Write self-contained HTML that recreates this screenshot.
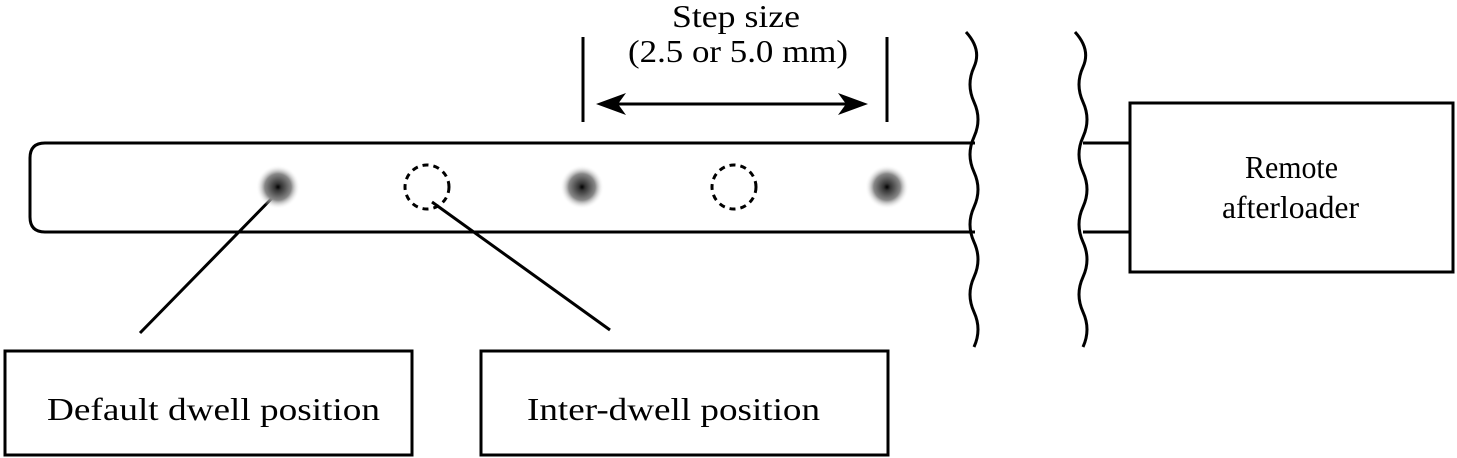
<!DOCTYPE html>
<html><head><style>body{margin:0;background:#fff}svg{display:block}</style></head><body>
<svg width="1457" height="458" viewBox="0 0 1457 458" xmlns="http://www.w3.org/2000/svg" font-family="'Liberation Serif',serif">
<defs><radialGradient id="g"><stop offset="0" stop-color="#000"/><stop offset="0.15" stop-color="#333"/><stop offset="0.6" stop-color="#888"/><stop offset="1" stop-color="#fff" stop-opacity="0"/></radialGradient></defs>
<g stroke="#000" stroke-width="3" fill="none">
<path d="M975 143 H45 Q30 143 30 158 V217 Q30 232 45 232 H975"/>
<path d="M1083 143 H1130 M1083 232 H1130"/>
<rect x="1130" y="103" width="323" height="169"/>
<rect x="5" y="351" width="407" height="104"/>
<rect x="481" y="351" width="407" height="104"/>
<path d="M278 192 L140 333 M432 202 L610 330"/>
<path d="M583 37 V122 M887 37 V122"/>
<path d="M615 104 H852"/>
<path d="M966 32 q16 17.5 8 35 t0 35 t0 35 t0 35 t0 35 t0 35 t0 35 t0 35 t0 35"/>
<path d="M1075 32 q16 17.5 8 35 t0 35 t0 35 t0 35 t0 35 t0 35 t0 35 t0 35 t0 35"/>
<circle cx="427" cy="187" r="22" stroke-dasharray="6 5"/>
<circle cx="734" cy="187" r="22" stroke-dasharray="6 5"/>
</g>
<path d="M596 104 L626 93 L618 104 L626 115 Z M868 104 L838 93 L846 104 L838 115 Z" fill="#000"/>
<circle cx="278" cy="187" r="22" fill="url(#g)"/>
<circle cx="582" cy="187" r="22" fill="url(#g)"/>
<circle cx="887" cy="187" r="22" fill="url(#g)"/>
<g font-size="32" fill="#000" lengthAdjust="spacingAndGlyphs">
<text x="672" y="27" textLength="128" lengthAdjust="spacingAndGlyphs">Step size</text>
<text x="628" y="62" textLength="220" lengthAdjust="spacingAndGlyphs">(2.5 or 5.0 mm)</text>
<text x="1245" y="178" textLength="93" lengthAdjust="spacingAndGlyphs">Remote</text>
<text x="1222" y="218" textLength="137" lengthAdjust="spacingAndGlyphs">afterloader</text>
<text x="47" y="420" textLength="333" lengthAdjust="spacingAndGlyphs">Default dwell position</text>
<text x="527" y="420" textLength="293" lengthAdjust="spacingAndGlyphs">Inter-dwell position</text>
</g>
</svg>
</body></html>
